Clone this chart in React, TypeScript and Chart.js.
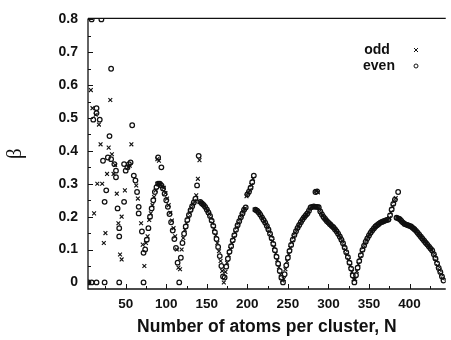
import React, { useEffect, useRef } from "react";
import { Chart, registerables } from "chart.js";

Chart.register(...registerables);

// ---------- tick labels ----------
const xTickValues = [50, 100, 150, 200, 250, 300, 350, 400];
const yTickValues = [0, 0.1, 0.2, 0.3, 0.4, 0.5, 0.6, 0.7, 0.8];

// ---------- sparse small-N region (even = circles) ----------
const sparseEvenN = [8, 20, 32, 14, 14, 10, 18, 58, 30, 22, 28, 32, 36, 38, 38, 26, 24, 40, 42, 42,
  48, 50, 52, 54, 56, 48, 60, 62, 64, 66, 66, 70, 72,
  4, 8, 14, 24, 42, 72,
  74, 76, 78, 80, 82, 84, 86, 88, 90, 90, 94];
const sparseEvenBeta = [0.8, 0.8, 0.65, 0.53, 0.515, 0.495, 0.495, 0.478, 0.445, 0.37, 0.38, 0.375, 0.36, 0.34, 0.32, 0.28, 0.245, 0.225, 0.165, 0.14,
  0.36, 0.34, 0.35, 0.36, 0.365, 0.245, 0.325, 0.31, 0.275, 0.23, 0.21, 0.155, 0.09,
  0, 0, 0, 0, 0, 0,
  0.1, 0.13, 0.165, 0.2, 0.225, 0.25, 0.275, 0.29, 0.3, 0.38, 0.35];

// ---------- sparse small-N region (odd = crosses) ----------
const sparseOddN = [7, 31, 9, 13, 17, 19, 29, 57, 33, 37, 27, 35, 15, 21, 11, 25, 23, 39, 41, 43, 45, 49, 45,
  63, 65, 69, 71, 73, 5, 53, 55,
  75, 77, 79, 81, 83, 85, 87, 89, 91, 89, 91];
const sparseOddBeta = [0.585, 0.555, 0.53, 0.51, 0.48, 0.42, 0.41, 0.42, 0.39, 0.357, 0.33, 0.33, 0.3, 0.3, 0.21, 0.15, 0.12, 0.27, 0.18, 0.085, 0.07, 0.28, 0.2,
  0.295, 0.255, 0.18, 0.115, 0.05, 0, 0.35, 0.355,
  0.12, 0.14, 0.19, 0.21, 0.235, 0.26, 0.28, 0.3, 0.3, 0.375, 0.37];

// ---------- isolated high points above the arcs ----------
const spikeEvenN = [140, 284, 286, 386];
const spikeEvenBeta = [0.385, 0.275, 0.277, 0.275];
const spikeOddN = [141, 285, 287];
const spikeOddBeta = [0.372, 0.278, 0.274];

// ---------- dense arcs: consecutive N starting at the given value ----------
const arc1DownStart = 92;
const arc1Down = [0.3, 0.298, 0.295, 0.292, 0.286, 0.288, 0.27, 0.272, 0.25, 0.255, 0.23, 0.235, 0.208, 0.212,
  0.183, 0.188, 0.158, 0.165, 0.132, 0.14, 0.105, 0.1, 0.06, 0.045, 0.0];

const arc2UpStart = 117;
const arc2Up = [0.04, 0.075, 0.1, 0.12, 0.135, 0.148, 0.16, 0.17, 0.18, 0.19, 0.198, 0.205, 0.212, 0.22,
  0.226, 0.232, 0.238, 0.243, 0.248, 0.255, 0.265, 0.295, 0.315];

const arc2DownStart = 141;
const arc2Down = [0.245, 0.245, 0.243, 0.24, 0.238, 0.236, 0.233, 0.23, 0.226, 0.222, 0.218, 0.213, 0.208,
  0.202, 0.195, 0.188, 0.18, 0.172, 0.163, 0.153, 0.143, 0.132, 0.12, 0.108, 0.095, 0.08, 0.065, 0.05,
  0.035, 0.018, 0.0];

const arc3UpStart = 172;
const arc3Up = [0.015, 0.032, 0.048, 0.06, 0.072, 0.083, 0.093, 0.102, 0.11, 0.119, 0.128, 0.136, 0.144,
  0.152, 0.16, 0.167, 0.174, 0.18, 0.186, 0.192, 0.198, 0.204, 0.21, 0.216, 0.221, 0.225, 0.228];

const ridge3Start = 199;
const ridge3 = [0.262, 0.268, 0.272, 0.276, 0.281, 0.288, 0.296, 0.305, 0.315, 0.325];

const arc3DownStart = 209;
const arc3Down = [0.222, 0.221, 0.22, 0.218, 0.216, 0.213, 0.21, 0.206, 0.202, 0.198, 0.194, 0.19, 0.186,
  0.182, 0.177, 0.172, 0.167, 0.161, 0.155, 0.148, 0.141, 0.134, 0.126, 0.117, 0.108, 0.098, 0.088,
  0.078, 0.068, 0.057, 0.046, 0.035, 0.024, 0.014, 0.006, 0.0];

const arc4UpStart = 245;
const arc4Up = [0.01, 0.025, 0.04, 0.052, 0.064, 0.075, 0.086, 0.096, 0.105, 0.114, 0.122, 0.13, 0.137,
  0.144, 0.15, 0.156, 0.161, 0.166, 0.171, 0.175, 0.179, 0.183, 0.187, 0.191, 0.195, 0.198, 0.201, 0.204,
  0.207, 0.21, 0.213, 0.218, 0.224, 0.228, 0.23, 0.23, 0.231, 0.231, 0.231, 0.23, 0.23, 0.23, 0.23, 0.229];

const arc4DownStart = 289;
const arc4Down = [0.222, 0.216, 0.211, 0.207, 0.203, 0.199, 0.196, 0.193, 0.19, 0.187, 0.184, 0.182, 0.179,
  0.177, 0.175, 0.172, 0.17, 0.168, 0.165, 0.162, 0.159, 0.156, 0.152, 0.148, 0.144, 0.14, 0.135, 0.13,
  0.125, 0.119, 0.113, 0.106, 0.099, 0.092, 0.085, 0.077, 0.069, 0.06, 0.051, 0.042, 0.032, 0.021, 0.01, 0.0];

const arc5UpStart = 333;
const arc5Up = [0.01, 0.022, 0.034, 0.045, 0.055, 0.065, 0.074, 0.083, 0.091, 0.099, 0.106, 0.112, 0.118,
  0.124, 0.129, 0.134, 0.139, 0.143, 0.147, 0.151, 0.155, 0.158, 0.161, 0.164, 0.167, 0.17, 0.172, 0.174,
  0.176, 0.178, 0.18, 0.182, 0.183, 0.184, 0.185, 0.186, 0.187, 0.188, 0.189, 0.19, 0.19, 0.191, 0.196,
  0.204, 0.213, 0.222, 0.231, 0.239, 0.246, 0.252, 0.257];

const arc5DownStart = 384;
const arc5Down = [0.197, 0.196, 0.195, 0.194, 0.192, 0.19, 0.187, 0.184, 0.182, 0.18, 0.178, 0.177, 0.176,
  0.175, 0.174, 0.173, 0.172, 0.171, 0.17, 0.168, 0.166, 0.164, 0.162, 0.16, 0.157, 0.154, 0.151, 0.148,
  0.145, 0.142, 0.139, 0.136, 0.133, 0.13, 0.127, 0.124, 0.121, 0.118, 0.115, 0.112, 0.109, 0.106, 0.103,
  0.1, 0.097, 0.092, 0.086, 0.08, 0.073, 0.066, 0.058, 0.05, 0.044, 0.038, 0.032, 0.025, 0.018, 0.012, 0.006];

const arcs: [number, number[]][] = [
  [arc1DownStart, arc1Down], [arc2UpStart, arc2Up], [arc2DownStart, arc2Down],
  [arc3UpStart, arc3Up], [ridge3Start, ridge3], [arc3DownStart, arc3Down],
  [arc4UpStart, arc4Up], [arc4DownStart, arc4Down], [arc5UpStart, arc5Up], [arc5DownStart, arc5Down],
];

function pairs(ns: number[], bs: number[]) {
  return ns.map((n, i) => ({ x: n, y: bs[i] }));
}
function arcPts(parity: number) {
  const out: { x: number; y: number }[] = [];
  arcs.forEach(([start, vals]) => {
    vals.forEach((b, i) => {
      const n = start + i;
      if (n % 2 === parity) out.push({ x: n, y: b });
    });
  });
  return out;
}

const FONT = '"Liberation Sans", Arial, Helvetica, sans-serif';
const INK = "#111";

const framePlugin = {
  id: "frame",
  afterDraw(chart: any) {
    const { ctx, chartArea: a, scales } = chart;
    const xs = scales.x;
    const ys = scales.y;
    ctx.save();
    ctx.strokeStyle = INK;
    ctx.lineWidth = 1.3;
    ctx.beginPath();
    ctx.moveTo(a.left, a.top);
    ctx.lineTo(a.right, a.top);
    ctx.moveTo(a.left, a.top);
    ctx.lineTo(a.left, a.bottom);
    ctx.lineTo(a.right, a.bottom);
    ctx.stroke();
    ctx.lineWidth = 1;
    ctx.beginPath();
    for (let v = 25; v <= 425; v += 25) {
      const px = Math.round(xs.getPixelForValue(v)) + 0.5;
      const len = v % 50 === 0 ? 5 : 3;
      ctx.moveTo(px, a.bottom);
      ctx.lineTo(px, a.bottom - len);
    }
    for (let k = 1; k <= 16; k++) {
      const v = k * 0.05;
      const py = Math.round(ys.getPixelForValue(v)) + 0.5;
      const len = k % 2 === 0 ? 5 : 3;
      ctx.moveTo(a.left, py);
      ctx.lineTo(a.left + len, py);
    }
    ctx.stroke();

    // legend
    ctx.fillStyle = INK;
    ctx.font = `bold 14px ${FONT}`;
    ctx.textAlign = "center";
    ctx.textBaseline = "middle";
    ctx.fillText("odd", 377, 50);
    ctx.fillText("even", 379, 66);
    ctx.lineWidth = 1;
    ctx.beginPath();
    ctx.moveTo(414, 48);
    ctx.lineTo(418, 52);
    ctx.moveTo(418, 48);
    ctx.lineTo(414, 52);
    ctx.stroke();
    ctx.beginPath();
    ctx.arc(416, 66, 2, 0, Math.PI * 2);
    ctx.stroke();
    ctx.restore();
  },
};

export default function App() {
  const ref = useRef<HTMLCanvasElement>(null);
  useEffect(() => {
    if (!ref.current) return;
    const evenData = [...pairs(sparseEvenN, sparseEvenBeta), ...arcPts(0), ...pairs(spikeEvenN, spikeEvenBeta)];
    const oddData = [...pairs(sparseOddN, sparseOddBeta), ...arcPts(1), ...pairs(spikeOddN, spikeOddBeta)];
    const chart = new Chart(ref.current, {
      type: "scatter",
      data: {
        datasets: [
          {
            label: "odd",
            data: oddData,
            pointStyle: "crossRot",
            pointRadius: 2.7,
            borderColor: INK,
            backgroundColor: INK,
            borderWidth: 1.1,
          },
          {
            label: "even",
            data: evenData,
            pointStyle: "circle",
            pointRadius: 2.3,
            borderColor: INK,
            backgroundColor: "rgba(0,0,0,0)",
            borderWidth: 1.25,
          },
        ],
      },
      options: {
        animation: false,
        responsive: false,
        devicePixelRatio: 1,
        layout: { padding: { top: 15, left: 0, right: 0, bottom: 0 } },
        plugins: { legend: { display: false }, tooltip: { enabled: false } },
        scales: {
          x: {
            type: "linear",
            min: 3.5,
            max: 444.7,
            grid: { display: false, drawTicks: false },
            border: { display: false },
            afterBuildTicks: (s: any) => {
              s.ticks = xTickValues.map((v) => ({ value: v }));
            },
            afterFit: (s: any) => {
              s.height = 51;
            },
            ticks: {
              padding: 7,
              color: INK,
              font: { family: FONT, size: 13.5, weight: "bold" },
              maxRotation: 0,
              autoSkip: false,
              callback: (v: any) => String(v),
            },
            title: {
              display: true,
              text: "Number of atoms per cluster, N",
              color: INK,
              font: { family: FONT, size: 17.5, weight: "bold" },
              padding: { top: 0, bottom: 2.5 },
            },
          },
          y: {
            type: "linear",
            min: -0.02,
            max: 0.803,
            grid: { display: false, drawTicks: false },
            border: { display: false },
            afterBuildTicks: (s: any) => {
              s.ticks = yTickValues.map((v) => ({ value: v }));
            },
            afterFit: (s: any) => {
              s.width = 88;
            },
            ticks: {
              padding: 10,
              color: INK,
              font: { family: FONT, size: 14, weight: "bold" },
              autoSkip: false,
              callback: (v: any) => (Math.abs(v) < 1e-9 ? "0" : Number(v).toFixed(1)),
            },
            title: {
              display: true,
              text: "β",
              color: INK,
              font: { family: '"Liberation Serif", "DejaVu Serif", serif', size: 21, weight: "normal" },
              padding: { top: 3, bottom: 0 },
            },
          },
        },
      },
      plugins: [framePlugin],
    });
    return () => chart.destroy();
  }, []);
  return (
    <div style={{ position: "absolute", left: 0, top: 0, width: 451, height: 340, background: "#fff" }}>
      <canvas ref={ref} width={451} height={340} style={{ display: "block" }} />
    </div>
  );
}
